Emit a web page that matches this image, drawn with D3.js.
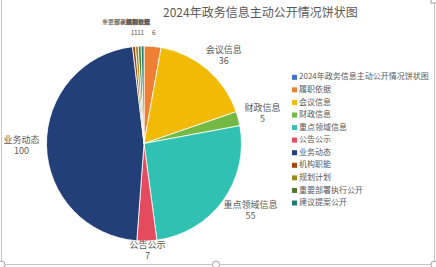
<!DOCTYPE html>
<html><head><meta charset="utf-8">
<script src="https://cdn.jsdelivr.net/npm/d3@7"></script>
<style>html,body{margin:0;padding:0;background:#fff;}svg{display:block;font-family:"Noto Sans CJK SC","Noto Sans",sans-serif;}</style>
</head><body>
<script>
const title = "2024年政务信息主动公开情况饼状图";
const categories = ["2024年政务信息主动公开情况饼状图","履职依据","会议信息","财政信息","重点领域信息","公告公示","业务动态","机构职能","规划计划","重要部署执行公开","建议提案公开"];
const values = [0,6,36,5,55,7,100,1,1,1,1];
const colors = ["#4472C4","#EE8033","#F1BA05","#75B945","#31C1B3","#E54B5E","#233F78","#9E480E","#A08A1E","#4E7A2E","#1E7D75"];

const W = 436, H = 267;
const cx = 144, cy = 143.5, r = 97.5;
const svg = d3.select("body").append("svg").attr("width", W).attr("height", H);

// frame
const fr = svg.append("g").attr("stroke", "#c6c6c6").attr("fill", "none");
fr.append("line").attr("x1", 1.5).attr("y1", 0).attr("x2", 1.5).attr("y2", 264.5);
fr.append("line").attr("x1", 434.5).attr("y1", 0).attr("x2", 434.5).attr("y2", 264.5);
fr.append("line").attr("x1", 1.5).attr("y1", 264.5).attr("x2", 434.5).attr("y2", 264.5);
[1.5, 216, 434.5].forEach(x => svg.append("circle").attr("cx", x).attr("cy", 264.5).attr("r", 3.5).attr("fill", "#fff").attr("stroke", "#a0a0a0"));
svg.append("rect").attr("x", 431).attr("y", -3).attr("width", 6).attr("height", 6).attr("fill", "#fff").attr("stroke", "#a0a0a0");

// title
svg.append("text").attr("x", 163).attr("y", 17).attr("font-size", 12).attr("fill", "#595959").text(title);

const data = categories.map((c, i) => ({name: c, value: values[i], color: colors[i]}));
const pie = d3.pie().sort(null).value(d => d.value);
const arcs = pie(data);
const arc = d3.arc().innerRadius(0).outerRadius(r);

const g = svg.append("g").attr("transform", `translate(${cx},${cy})`);
g.selectAll("path").data(arcs.filter(a => a.data.value > 0)).join("path")
  .attr("d", arc).attr("fill", a => a.data.color).attr("stroke", "#fff").attr("stroke-width", 0.8);

// labels
const lab = svg.append("g").attr("fill", "#595959");
function textW(t, fs) {
  const tmp = svg.append("text").attr("font-size", fs).text(t);
  const w = tmp.node().getComputedTextLength(); tmp.remove(); return w;
}
arcs.forEach(a => {
  if (a.data.value <= 0) return;
  const m = (a.startAngle + a.endAngle) / 2;
  const deg = m * 180 / Math.PI;
  const nearTop = deg < 15 || deg > 345;
  if (nearTop) {
    const fs = 6;
    const vx = cx + 110 * Math.sin(m);
    lab.append("text").attr("x", vx).attr("y", 33).attr("font-size", 6.5).attr("text-anchor", "middle").attr("dominant-baseline", "middle").text(a.data.value);
    lab.append("text").attr("x", cx + 6).attr("y", 22).attr("font-size", fs).attr("text-anchor", "end").attr("dominant-baseline", "middle").text(a.data.name);
  } else {
    const fs = 9;
    const w = Math.max(textW(a.data.name, fs), textW(String(a.data.value), fs));
    const h = 22;
    const R = r + 7;
    let x = cx + R * Math.sin(m) + (w / 2) * Math.sin(m);
    let y = cy - R * Math.cos(m) - (h / 2) * Math.cos(m);
    y = Math.min(y, 262 - h / 2);
    lab.append("text").attr("x", x).attr("y", y - 5.5).attr("font-size", fs).attr("text-anchor", "middle").attr("dominant-baseline", "middle").text(a.data.name);
    lab.append("text").attr("x", x).attr("y", y + 5.5).attr("font-size", fs).attr("text-anchor", "middle").attr("dominant-baseline", "middle").text(a.data.value);
  }
});

// legend
const ly = d3.scalePoint().domain(categories).range([77.3, 203]);
const leg = svg.append("g").selectAll("g").data(data).join("g").attr("transform", d => `translate(292,${ly(d.name)})`);
leg.append("rect").attr("x", 0).attr("y", -2.5).attr("width", 5).attr("height", 5).attr("fill", d => d.color);
leg.append("text").attr("x", 7).attr("y", 0).attr("dominant-baseline", "middle").attr("font-size", 8).attr("fill", "#595959").text(d => d.name);
</script>
</body></html>
